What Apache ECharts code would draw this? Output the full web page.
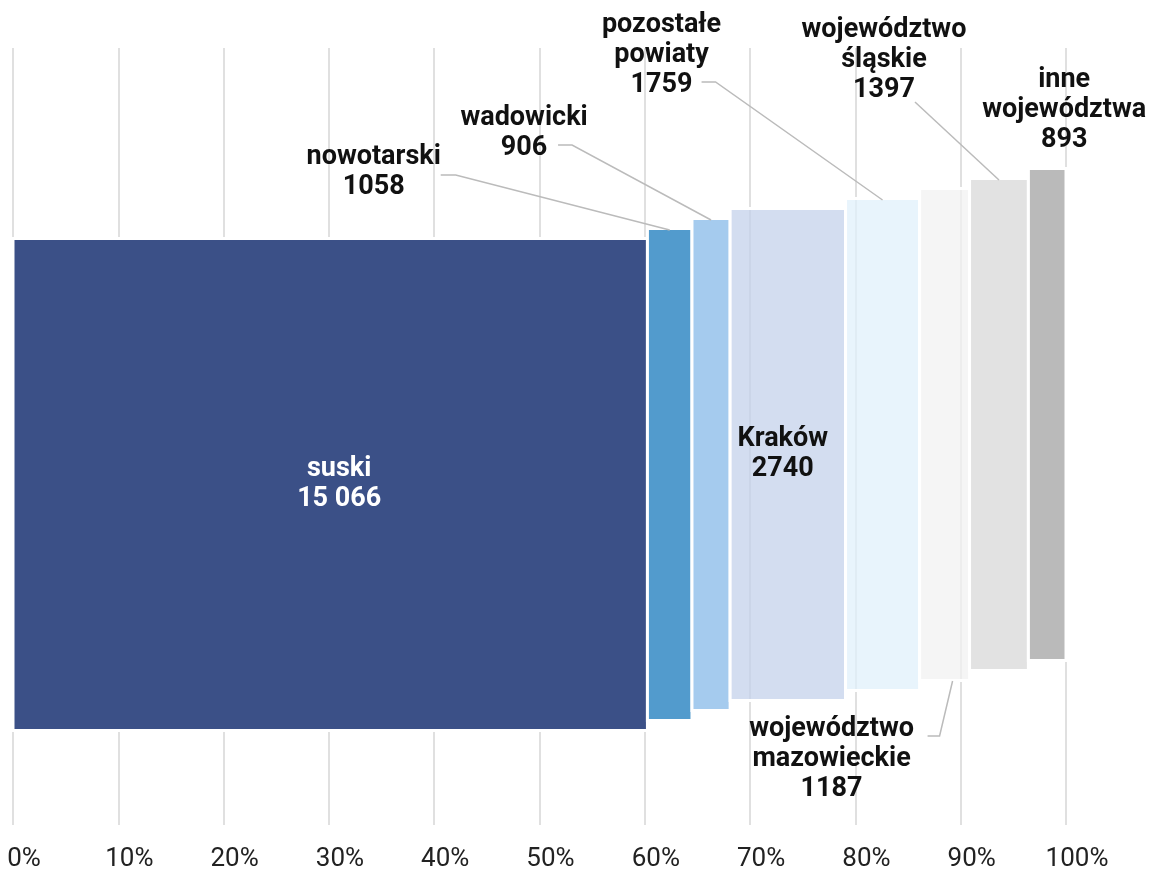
<!DOCTYPE html>
<html>
<head>
<meta charset="utf-8">
<script src="https://cdn.jsdelivr.net/npm/echarts@6/dist/echarts.min.js"></script>
<style>
html,body{margin:0;padding:0;background:#fff;}
#chart{width:1154px;height:873px;}
</style>
</head>
<body>
<div id="chart"></div>
<script>
// ---- data ----
const categories = ['suski', 'nowotarski', 'wadowicki', 'Kraków', 'pozostałe\npowiaty', 'województwo\nmazowieckie', 'województwo\nśląskie', 'inne\nwojewództwa'];
const values = [15066, 1058, 906, 2740, 1759, 1187, 1397, 893];
const xTicks = [0, 10, 20, 30, 40, 50, 60, 70, 80, 90, 100];

// ---- styles / layout ----
const colors = ['#3b5087', '#529bcd', '#a5cbee', 'rgba(196,210,235,0.75)', 'rgba(224,240,251,0.75)',
  'rgba(242,242,242,0.75)', '#e2e2e2', '#bababa'];
// label placement relative to bar (pixels). mode: 'in' = inside, 'top' = above bar top, 'bottom' = below bar bottom
const labelLayout = [
  {mode: 'in', dx: 9, dy: 0, color: '#fff'},
  {mode: 'top', dx: -296, dy: -43, line: [[-229, -55], [-214, -55], [0, 0]]},
  {mode: 'top', dx: -187, dy: -72, line: [[-153, -75], [-139, -75], [0, 0]]},
  {mode: 'in', dx: -5, dy: 0, color: '#111'},
  {mode: 'top', dx: -221, dy: -115, line: [[-181, -118], [-167, -118], [0, 0]]},
  {mode: 'bottom', dx: -113, dy: 110, line: [[-17, 57], [-5, 57], [8, 2]]},
  {mode: 'top', dx: -115, dy: -90, line: [[-84, -78], [0, 0]]},
  {mode: 'top', dx: 17, dy: -30}
];
const BAR_TOP = 585, BAR_BOTTOM = 96, STEP = 10; // y-axis units (1 unit = 1px)
const FONT = 'bold 27px Roboto, "Noto Sans", sans-serif';
const LINE_H = 30;

function fmt(v) {
  const s = String(v);
  return v >= 10000 ? s.replace(/\B(?=(\d{3})+(?!\d))/g, ' ') : s;
}

const total = values.reduce((a, b) => a + b, 0);
let cum = 0;
const seriesData = values.map((v, i) => {
  const start = cum / total * 100;
  cum += v;
  const end = cum / total * 100;
  return [start, end, i, v];
});

function renderItem(params, api) {
  const i = api.value(2);
  const x0 = api.coord([api.value(0), 0])[0];
  const x1 = api.coord([api.value(1), 0])[0];
  const yTop = api.coord([0, BAR_TOP + STEP * i])[1];
  const yBot = api.coord([0, BAR_BOTTOM + STEP * i])[1];
  const cx = (x0 + x1) / 2;
  const children = [
    {
      type: 'rect',
      shape: {x: x0, y: yTop - 1.5, width: x1 - x0, height: yBot - yTop + 3},
      style: {fill: 'none', stroke: '#fff', lineWidth: 3}
    },
    {
      type: 'rect',
      shape: {x: x0 + 1.5, y: yTop, width: x1 - x0 - 3, height: yBot - yTop},
      style: {fill: colors[i]}
    }
  ];
  const L = labelLayout[i];
  const txt = categories[i] + '\n' + fmt(values[i]);
  if (L.mode === 'in') {
    children.push({
      type: 'text',
      style: {text: txt, x: cx + L.dx, y: (yTop + yBot) / 2 + L.dy, align: 'center', verticalAlign: 'middle',
        font: FONT, fill: L.color, lineHeight: LINE_H}
    });
  } else {
    const by = L.mode === 'top' ? yTop : yBot;
    children.push({
      type: 'text',
      style: {text: txt, x: cx + L.dx, y: by + L.dy + LINE_H / 2, align: 'center', verticalAlign: 'bottom',
        font: FONT, fill: '#111', lineHeight: LINE_H}
    });
    if (L.line) {
      children.push({
        type: 'polyline',
        shape: {points: L.line.map(p => [cx + p[0], by + p[1]])},
        style: {stroke: '#bbbbbb', lineWidth: 1.5, fill: null}
      });
    }
  }
  return {type: 'group', children: children};
}

const chart = echarts.init(document.getElementById('chart'));
chart.setOption({
  animation: false,
  grid: {left: 13, right: 88, top: 48, bottom: 48, containLabel: false, outerBoundsMode: 'none'},
  xAxis: {
    type: 'value', min: 0, max: 100, interval: 10,
    axisLine: {show: false}, axisTick: {show: false},
    axisLabel: {formatter: v => xTicks.includes(v) ? v + '%' : '', color: '#222', fontSize: 26,
      fontFamily: 'Roboto, "Noto Sans", sans-serif', margin: 21, padding: [0, 0, 0, 22]},
    splitLine: {show: true, lineStyle: {color: '#e0e0e0', width: 2}}
  },
  yAxis: {type: 'value', min: 0, max: 777, show: false, splitLine: {show: false}},
  series: [{
    type: 'custom',
    renderItem: renderItem,
    data: seriesData,
    encode: {x: [0, 1], y: 2}
  }]
});
</script>
</body>
</html>
